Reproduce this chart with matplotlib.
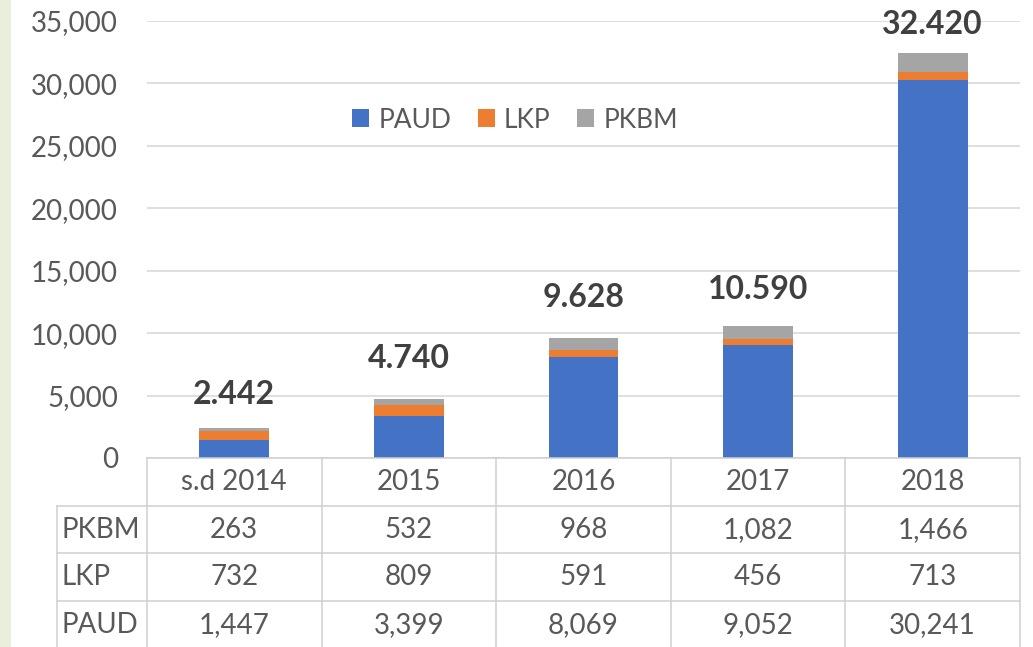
import numpy as np
import matplotlib
matplotlib.use("Agg")
from matplotlib import pyplot as plt
from matplotlib.patches import Patch, Rectangle
from matplotlib.ticker import FuncFormatter

plt.rcParams['font.family'] = ['Lato', 'DejaVu Sans']

# data
categories = ["s.d 2014", "2015", "2016", "2017", "2018"]
paud = [1447, 3399, 8069, 9052, 30241]
lkp = [732, 809, 591, 456, 713]
pkbm = [263, 532, 968, 1082, 1466]
series_names = ["PAUD", "LKP", "PKBM"]

COLORS = {"PAUD": "#4472C4", "LKP": "#ED7D31", "PKBM": "#A5A5A5"}
TEXT = "#595959"
GRID = "#D9D9D9"
# vertical gap (points) between bar top and its total label, as placed in the original
label_gap = [17, 22, 22, 19, 14]

W, H = 1033, 647
fig = plt.figure(figsize=(W / 100, H / 100), dpi=100)
fig.patch.set_facecolor("white")
fig.patches.append(Rectangle((0, 0), 11 / W, 1, transform=fig.transFigure,
                             facecolor="#EAEEDD", edgecolor="none", zorder=0))

left, right = 147 / W, 1020 / W
bottom, top = 1 - 458 / H, 1 - 21 / H
ax = fig.add_axes([left, bottom, right - left, top - bottom])

x = np.arange(len(categories))
paud_a, lkp_a, pkbm_a = np.array(paud), np.array(lkp), np.array(pkbm)
width = 0.4
ax.bar(x, paud_a, width, color=COLORS["PAUD"], zorder=3)
ax.bar(x, lkp_a, width, bottom=paud_a, color=COLORS["LKP"], zorder=3)
ax.bar(x, pkbm_a, width, bottom=paud_a + lkp_a, color=COLORS["PKBM"], zorder=3)

totals = paud_a + lkp_a + pkbm_a
for i, t in enumerate(totals):
    ax.annotate("{:,}".format(int(t)).replace(",", "."), (x[i], t),
                xytext=(0, label_gap[i]), textcoords="offset points",
                ha="center", va="baseline", fontsize=23, fontweight="bold",
                color="#404040", zorder=5)

ax.set_xlim(-0.5, len(categories) - 0.5)
ax.set_ylim(0, 35000)
ax.set_yticks(np.arange(0, 35001, 5000))
ax.yaxis.set_major_formatter(FuncFormatter(lambda v, p: "{:,}".format(int(v))))
ax.set_xticks([])
ax.tick_params(axis="y", length=0, pad=21, labelsize=20, labelcolor=TEXT)
ax.grid(axis="y", color=GRID, linewidth=1.2, zorder=0)
for s in ax.spines.values():
    s.set_visible(False)

handles = [Patch(facecolor=COLORS[n], edgecolor="none", label=n) for n in series_names]
leg = fig.legend(handles=handles, loc="center", bbox_to_anchor=(515 / W, 1 - 120 / H),
                 ncol=3, frameon=False, fontsize=19, handlelength=0.65,
                 handleheight=0.65, handletextpad=0.35, columnspacing=1.0,
                 labelcolor=TEXT)

# data table under the chart (one unit = one row, ~47.7 px)
tax = fig.add_axes([left, 0, right - left, bottom])
rows = bottom * H / 47.7
tax.set_xlim(-0.5, len(categories) - 0.5)
tax.set_ylim(-rows, 0)
tax.axis("off")
lab_x = -0.5 - 90 / 174.6
line_kw = dict(color="#D0D0D0", linewidth=1.1, clip_on=False)

tax.plot([-0.5, len(categories) - 0.5], [0, 0], **line_kw)
for r in range(1, 4):
    tax.plot([lab_x, len(categories) - 0.5], [-r, -r], **line_kw)
tax.plot([lab_x, lab_x], [-1, -rows], **line_kw)
for c in np.arange(-0.5, len(categories), 1.0):
    tax.plot([c, c], [0, -rows], **line_kw)

for i, cat in enumerate(categories):
    tax.text(i, -0.5, cat, ha="center", va="center", fontsize=20, color=TEXT)

table_rows = [("PKBM", pkbm), ("LKP", lkp), ("PAUD", paud)]
for r, (name, vals) in enumerate(table_rows, start=1):
    tax.text(lab_x + 5 / 174.6, -r - 0.5, name, ha="left", va="center",
             fontsize=20, color=TEXT)
    for i, v in enumerate(vals):
        tax.text(i, -r - 0.5, "{:,}".format(v), ha="center", va="center",
                 fontsize=20, color=TEXT)

fig.savefig("out.png", dpi=100, facecolor="white")
